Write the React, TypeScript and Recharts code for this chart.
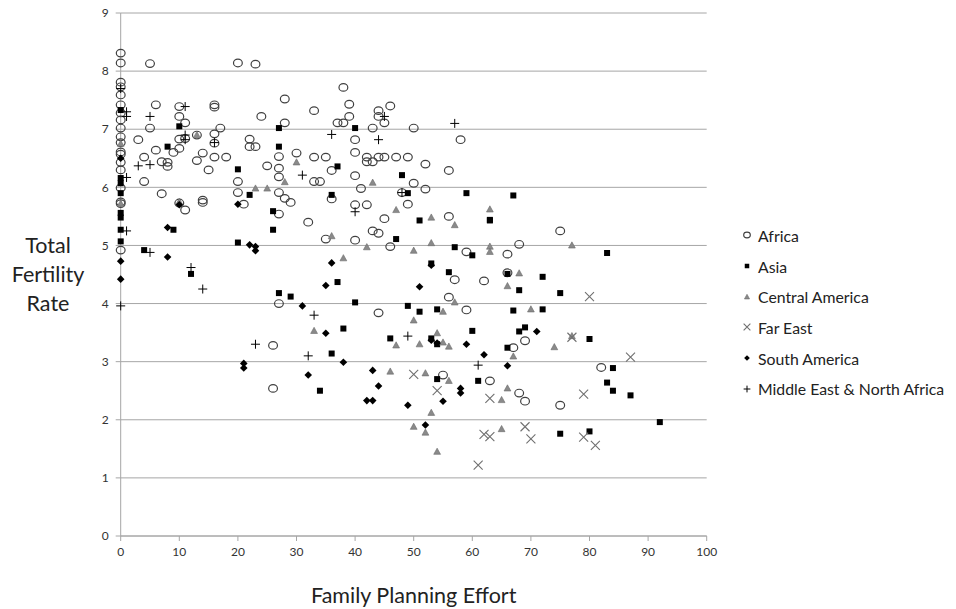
import React from "react";
import { ScatterChart, Scatter, XAxis, YAxis, CartesianGrid, Legend } from "recharts";

const xTicks = [0, 10, 20, 30, 40, 50, 60, 70, 80, 90, 100];
const yTicks = [0, 1, 2, 3, 4, 5, 6, 7, 8, 9];

const africa: number[][] = [
  [0, 8.31], [0, 8.14], [0, 7.81], [0, 7.73], [0, 7.59], [0, 7.42], [0, 7.28], [0, 7.16], [0, 7.02], [0, 6.87],
  [0, 6.77], [0, 6.61], [0, 6.57], [0, 6.43], [0, 6.3], [0, 5.99], [0, 5.75], [0, 5.72], [0, 4.92],
  [5, 8.13], [20, 8.14], [23, 8.12], [6, 7.42], [10, 7.39], [10, 7.22], [11, 7.11], [5, 7.02], [16, 7.42], [16, 7.38],
  [17, 7.02], [24, 7.22], [28, 7.52], [28, 7.11], [3, 6.82], [10, 6.83], [11, 6.84], [13, 6.9], [16, 6.92], [16, 6.76],
  [10, 6.67], [9, 6.6], [6, 6.64], [4, 6.52], [7, 6.44], [8, 6.43], [8, 6.36], [13, 6.46], [14, 6.59], [16, 6.52],
  [18, 6.52], [15, 6.3], [22, 6.83], [22, 6.7], [23, 6.7], [25, 6.37], [27, 6.53], [27, 6.33], [27, 6.18], [30, 6.59],
  [4, 6.1], [7, 5.89], [10, 5.73], [11, 5.61], [14, 5.78], [14, 5.74], [20, 6.1], [20, 5.91], [21, 5.71], [27, 5.54],
  [27, 5.91], [28, 5.81], [29, 5.74], [27, 4.0], [26, 3.28], [26, 2.54],
  [38, 7.72], [33, 7.32], [39, 7.43], [39, 7.22], [37, 7.11], [38, 7.11], [44, 7.32], [44, 7.22], [46, 7.4], [45, 7.11],
  [43, 7.02], [50, 7.02], [40, 6.82], [58, 6.82], [40, 6.6], [33, 6.52], [35, 6.52], [42, 6.52], [42, 6.44], [43, 6.44],
  [44, 6.52], [45, 6.52], [47, 6.52], [49, 6.52], [52, 6.4], [56, 6.29], [36, 6.29], [40, 6.2], [33, 6.1], [34, 6.1],
  [41, 5.98], [50, 6.07], [52, 5.97], [36, 5.8], [40, 5.7], [42, 5.7], [48, 5.91], [49, 5.71], [32, 5.4], [45, 5.46],
  [43, 5.25], [44, 5.21], [35, 5.11], [40, 5.09], [46, 4.98], [56, 5.5], [59, 4.89], [57, 4.41], [62, 4.39], [56, 4.11],
  [59, 3.89], [44, 3.84], [55, 2.77], [63, 2.67], [66, 4.85], [66, 4.53], [69, 3.36], [67, 3.24], [82, 2.9], [68, 2.46],
  [69, 2.32], [75, 2.25], [75, 5.25], [68, 5.02],
];

const asia: number[][] = [
  [0, 7.33], [0, 6.16], [0, 6.07], [0, 5.9], [0, 5.56], [0, 5.48], [0, 5.27], [0, 5.07],
  [8, 6.7], [10, 7.05], [27, 7.02], [27, 6.7], [20, 6.31], [4, 4.92], [9, 5.27], [22, 5.87], [20, 5.05], [26, 5.59],
  [26, 5.27], [12, 4.51], [27, 4.18], [29, 4.12], [40, 7.02], [37, 6.36], [48, 6.21], [36, 5.87], [49, 5.9], [59, 5.9],
  [51, 5.43], [63, 5.43], [47, 5.11], [57, 4.97], [60, 4.83], [53, 4.69], [56, 4.54], [37, 4.37], [40, 4.02], [49, 3.96],
  [51, 3.86], [54, 3.9], [38, 3.57], [60, 3.53], [46, 3.4], [53, 3.4], [36, 3.14], [34, 2.5], [54, 2.7], [61, 2.67],
  [54, 3.3], [83, 4.87], [66, 4.51], [72, 4.46], [68, 4.23], [75, 4.18], [67, 3.88], [72, 3.9], [68, 3.52], [69, 3.59],
  [66, 3.24], [80, 3.39], [84, 2.89], [83, 2.64], [84, 2.5], [87, 2.42], [92, 1.96], [75, 1.76], [80, 1.8], [67, 5.86],
  [63, 5.44],
];

const centralAmerica: number[][] = [
  [0, 6.75], [0, 5.72], [13, 6.9], [30, 6.43], [23, 5.98], [25, 5.98], [28, 6.09], [10, 5.75], [43, 6.08], [47, 5.61],
  [53, 5.48], [57, 5.35], [63, 5.62], [36, 5.16], [42, 4.97], [50, 4.91], [53, 5.04], [63, 4.98], [63, 4.89], [38, 4.78],
  [57, 4.02], [55, 3.86], [50, 3.71], [33, 3.53], [47, 3.28], [51, 3.3], [54, 3.49], [55, 3.33], [56, 3.26], [46, 2.83],
  [52, 2.8], [56, 2.67], [53, 2.12], [50, 1.88], [52, 1.78], [54, 1.45], [65, 2.34], [65, 1.84], [66, 4.3], [68, 4.52],
  [70, 3.9], [67, 3.09], [74, 3.25], [77, 3.44], [66, 2.54], [77, 5.0],
];

const farEast: number[][] = [
  [50, 2.78], [54, 2.5], [63, 2.37], [62, 1.75], [63, 1.71], [61, 1.22], [80, 4.12], [77, 3.42], [87, 3.08], [79, 2.44],
  [69, 1.88], [70, 1.67], [79, 1.7], [81, 1.56],
];

const southAmerica: number[][] = [
  [0, 4.73], [0, 4.42], [0, 6.5], [8, 5.31], [8, 4.8], [20, 5.71], [22, 5.01], [23, 4.98], [23, 4.91], [10, 5.7],
  [21, 2.97], [21, 2.89], [36, 4.7], [35, 4.31], [51, 4.29], [31, 3.96], [35, 3.49], [53, 4.66], [59, 3.3], [54, 3.32],
  [53, 3.37], [38, 2.99], [32, 2.77], [43, 2.85], [44, 2.58], [42, 2.33], [43, 2.33], [49, 2.25], [55, 2.32], [58, 2.54],
  [58, 2.46], [52, 1.91], [62, 3.12], [66, 2.93], [71, 3.52],
];

const middleEast: number[][] = [
  [0, 7.7], [1, 7.3], [1, 7.22], [1, 6.17], [1, 5.25], [0, 3.96], [5, 7.22], [11, 7.39], [11, 6.9], [11, 6.82],
  [16, 6.77], [3, 6.37], [5, 6.39], [5, 4.88], [12, 4.62], [14, 4.25], [23, 3.3], [36, 6.91], [44, 6.82], [45, 7.22],
  [57, 7.1], [31, 6.21], [40, 5.58], [48, 5.91], [33, 3.8], [49, 3.44], [32, 3.1], [61, 2.94],
];

const toPts = (arr: number[][]) => arr.map(([x, y]) => ({ x, y }));

type Kind = "circle" | "square" | "triangle" | "x" | "diamond" | "plus";

const Marker = ({ kind, cx, cy, s = 1 }: { kind: Kind; cx: number; cy: number; s?: number }) => {
  switch (kind) {
    case "circle":
      return <ellipse cx={cx} cy={cy} rx={4.4 * s} ry={3.8 * s} fill="none" stroke="#404040" strokeWidth={1.2} />;
    case "square":
      return <rect x={cx - 3 * s} y={cy - 3 * s} width={6 * s} height={6 * s} fill="#000" />;
    case "triangle":
      return (
        <path
          d={`M${cx},${cy - 3.6 * s} L${cx + 3.4 * s},${cy + 2.6 * s} L${cx - 3.4 * s},${cy + 2.6 * s} Z`}
          fill="#8a8a8a"
          stroke="#6a6a6a"
          strokeWidth={0.6}
        />
      );
    case "x":
      return (
        <path
          d={`M${cx - 4.5 * s},${cy - 4.5 * s} L${cx + 4.5 * s},${cy + 4.5 * s} M${cx + 4.5 * s},${cy - 4.5 * s} L${cx - 4.5 * s},${cy + 4.5 * s}`}
          stroke="#707070"
          strokeWidth={1.1}
          fill="none"
        />
      );
    case "diamond":
      return (
        <path
          d={`M${cx},${cy - 3.8 * s} L${cx + 3.8 * s},${cy} L${cx},${cy + 3.8 * s} L${cx - 3.8 * s},${cy} Z`}
          fill="#000"
        />
      );
    case "plus":
    default:
      return (
        <path
          d={`M${cx - 4.5 * s},${cy} L${cx + 4.5 * s},${cy} M${cx},${cy - 4.5 * s} L${cx},${cy + 4.5 * s}`}
          stroke="#000"
          strokeWidth={1}
          fill="none"
        />
      );
  }
};

const seriesList: { name: string; data: number[][]; kind: Kind }[] = [
  { name: "Africa", data: africa, kind: "circle" },
  { name: "Asia", data: asia, kind: "square" },
  { name: "Central America", data: centralAmerica, kind: "triangle" },
  { name: "Far East", data: farEast, kind: "x" },
  { name: "South America", data: southAmerica, kind: "diamond" },
  { name: "Middle East & North Africa", data: middleEast, kind: "plus" },
];

const FONT = "Lato, 'Open Sans', sans-serif";

const LegendContent = () => (
  <div style={{ fontFamily: FONT, fontSize: 15.8, color: "#222" }}>
    {seriesList.map((s) => (
      <div key={s.name} style={{ display: "flex", alignItems: "center", height: 30.7, whiteSpace: "nowrap" }}>
        <svg width={12} height={12} style={{ marginRight: 5 }}>
          <Marker kind={s.kind} cx={6} cy={6} s={0.75} />
        </svg>
        <span>{s.name}</span>
      </div>
    ))}
  </div>
);

const YTitle = () => (
  <text textAnchor="middle" fontFamily={FONT} fontSize={21.5} fill="#222">
    <tspan x={48} y={245} dominantBaseline="central">Total</tspan>
    <tspan x={48} y={274} dominantBaseline="central">Fertility</tspan>
    <tspan x={48} y={303} dominantBaseline="central">Rate</tspan>
  </text>
);

const XTitle = (props: any) => {
  const { viewBox } = props;
  return (
    <text
      x={viewBox.x + viewBox.width / 2}
      y={595}
      textAnchor="middle"
      dominantBaseline="central"
      fontFamily={FONT}
      fontSize={21.5}
      fill="#222"
    >
      Family Planning Effort
    </text>
  );
};

export default function App() {
  return (
    <div style={{ position: "relative", width: 956, height: 609, margin: "-8px 0 0 -8px" }}>
      <ScatterChart width={956} height={609} margin={{ top: 13, right: 249.3, bottom: 43, left: 0 }}>
        <CartesianGrid horizontal vertical={false} stroke="#a6a6a6" strokeWidth={1} />
        <XAxis
          type="number"
          dataKey="x"
          domain={[0, 100]}
          ticks={xTicks}
          interval={0}
          height={30}
          stroke="#a6a6a6"
          tickSize={5}
          tickMargin={6}
          tick={{ fontFamily: FONT, fontSize: 12, fill: "#333" }}
          label={<XTitle />}
        />
        <YAxis
          type="number"
          dataKey="y"
          domain={[0, 9]}
          ticks={yTicks}
          interval={0}
          width={120.7}
          stroke="#a6a6a6"
          tickSize={5}
          tickMargin={7}
          tick={{ fontFamily: FONT, fontSize: 12, fill: "#333" }}
          label={<YTitle />}
        />
        {seriesList.map((s) => (
          <Scatter
            key={s.name}
            name={s.name}
            data={toPts(s.data)}
            isAnimationActive={false}
            shape={(p: any) => <Marker kind={s.kind} cx={p.cx} cy={p.cy} />}
          />
        ))}
        <Legend
          layout="vertical"
          verticalAlign="middle"
          align="center"
          content={<LegendContent />}
          wrapperStyle={{ left: 741, top: 220, width: 215, right: "auto", bottom: "auto" }}
        />
      </ScatterChart>
    </div>
  );
}
